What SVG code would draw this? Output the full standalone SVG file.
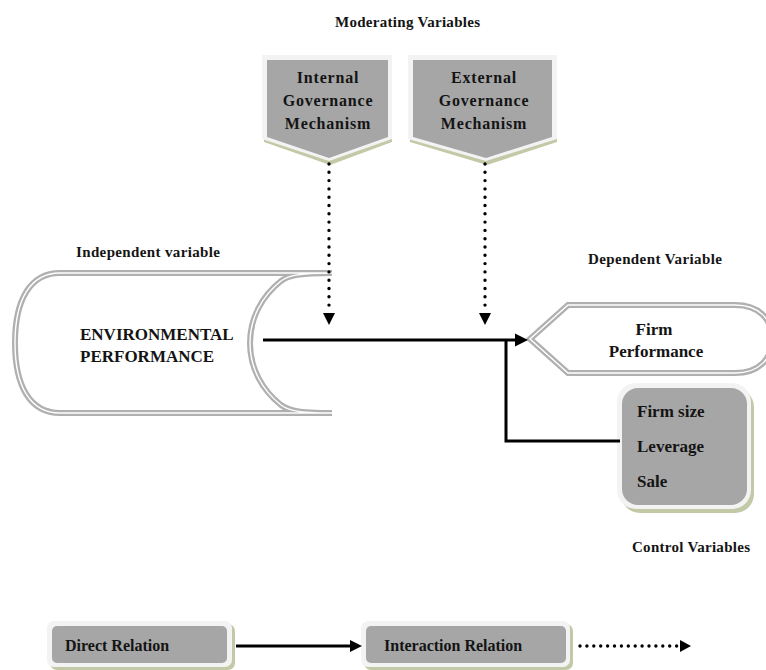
<svg xmlns="http://www.w3.org/2000/svg" width="766" height="670" viewBox="0 0 766 670">
<style>
text{font-family:"Liberation Serif","Times New Roman",serif;font-weight:bold;fill:#141414}
.lbl{font-size:15px}
.gov{font-size:16px;letter-spacing:0.8px;text-anchor:middle}
.big{font-size:17px}
.leg{font-size:16px}
.shadow{fill:#c2c9a6}
.border{fill:#f3f3f3}
.fillg{fill:#a6a6a6}
.dbl{fill:#fff;stroke:#b0b0b0;stroke-width:6}
.dblin{fill:none;stroke:#fff;stroke-width:1.4}
.solid{fill:none;stroke:#000;stroke-width:3}
.dots{fill:none;stroke:#000;stroke-width:3.4;stroke-linecap:round;stroke-dasharray:0 8.3}
.head{fill:#000}
</style>
<rect width="766" height="670" fill="#fff"/>
<g id="labels">
<text class="lbl" x="335" y="27" textLength="145" lengthAdjust="spacing">Moderating Variables</text>
<text class="lbl" x="76" y="257" textLength="144" lengthAdjust="spacing">Independent variable</text>
<text class="lbl" x="588" y="264" textLength="134" lengthAdjust="spacing">Dependent Variable</text>
<text class="lbl" x="632" y="552" textLength="118" lengthAdjust="spacing">Control Variables</text>
</g>
<g id="internal">
<polygon class="shadow" points="264,60 392,60 392,142 330,165 264,142"/>
<polygon class="border" points="262,55 392,55 392,139 329,161 262,139"/>
<polygon class="fillg" points="267,60 388,60 388,137 329,158 267,137"/>
<text class="gov" x="328" y="83">Internal</text>
<text class="gov" x="328" y="106">Governance</text>
<text class="gov" x="328" y="129">Mechanism</text>
</g>
<g id="external">
<polygon class="shadow" points="410,60 557,60 557,142 487,165 410,142"/>
<polygon class="border" points="408,55 557,55 557,139 486,161 408,139"/>
<polygon class="fillg" points="413,60 552,60 552,137 486,158 413,137"/>
<text class="gov" x="484" y="83">External</text>
<text class="gov" x="484" y="106">Governance</text>
<text class="gov" x="484" y="129">Mechanism</text>
</g>
<g id="environmental">
<path class="dbl" d="M 332,273 L 60,273 C 30,273 15,300 15,343 C 15,386 30,413 60,413 L 332,413 C 296,413 288,410 281,405 C 262,390 250,368 250,343 C 250,318 262,296 281,281 C 288,276 296,273 332,273 Z"/>
<path class="dblin" d="M 332,273 L 60,273 C 30,273 15,300 15,343 C 15,386 30,413 60,413 L 332,413 C 296,413 288,410 281,405 C 262,390 250,368 250,343 C 250,318 262,296 281,281 C 288,276 296,273 332,273 Z"/>
<text class="big" x="80" y="340">ENVIRONMENTAL</text>
<text class="big" x="80" y="362">PERFORMANCE</text>
</g>
<g id="firm-performance">
<path class="dbl" d="M 530,339 L 568,305 L 735,305 C 760,305 772,320 772,339 C 772,358 760,373 735,373 L 568,373 Z"/>
<path class="dblin" d="M 530,339 L 568,305 L 735,305 C 760,305 772,320 772,339 C 772,358 760,373 735,373 L 568,373 Z"/>
<text class="big" x="654" y="335" text-anchor="middle">Firm</text>
<text class="big" x="656" y="357" text-anchor="middle">Performance</text>
</g>
<g id="control">
<rect class="shadow" x="621" y="388" width="133" height="125" rx="19"/>
<rect class="border" x="617" y="383" width="134" height="126" rx="19"/>
<rect class="fillg" x="622" y="388" width="125" height="117" rx="16"/>
<text class="big" x="637" y="417">Firm size</text>
<text class="big" x="637" y="452">Leverage</text>
<text class="big" x="637" y="487">Sale</text>
</g>
<g id="legend-direct">
<rect class="shadow" x="50" y="624" width="185" height="46" rx="7"/>
<rect class="border" x="47" y="621" width="185" height="46" rx="7"/>
<rect class="fillg" x="52" y="626" width="175" height="37" rx="5"/>
<text class="leg" x="65" y="651">Direct Relation</text>
</g>
<g id="legend-interaction">
<rect class="shadow" x="364" y="624" width="209" height="46" rx="7"/>
<rect class="border" x="361" y="621" width="209" height="46" rx="7"/>
<rect class="fillg" x="366" y="626" width="200" height="37" rx="5"/>
<text class="leg" x="384" y="651">Interaction Relation</text>
</g>
<g id="connectors">
<line class="dots" x1="329" y1="164" x2="329" y2="307"/>
<polygon class="head" points="323,313 335,313 329,325"/>
<line class="dots" x1="485" y1="164" x2="485" y2="307"/>
<polygon class="head" points="479,313 491,313 485,325"/>
<line class="solid" x1="263" y1="340" x2="518" y2="340"/>
<polygon class="head" points="515,333.5 528,340 515,346.5"/>
<polyline class="solid" points="506,340 506,441 620,441"/>
<line class="solid" x1="236" y1="646" x2="352" y2="646"/>
<polygon class="head" points="350,640 362,646 350,652"/>
<line class="dots" x1="580" y1="646" x2="677" y2="646" style="stroke-dasharray:0 6.9"/>
<polygon class="head" points="680,640 691,646 680,652"/>
</g>
</svg>
